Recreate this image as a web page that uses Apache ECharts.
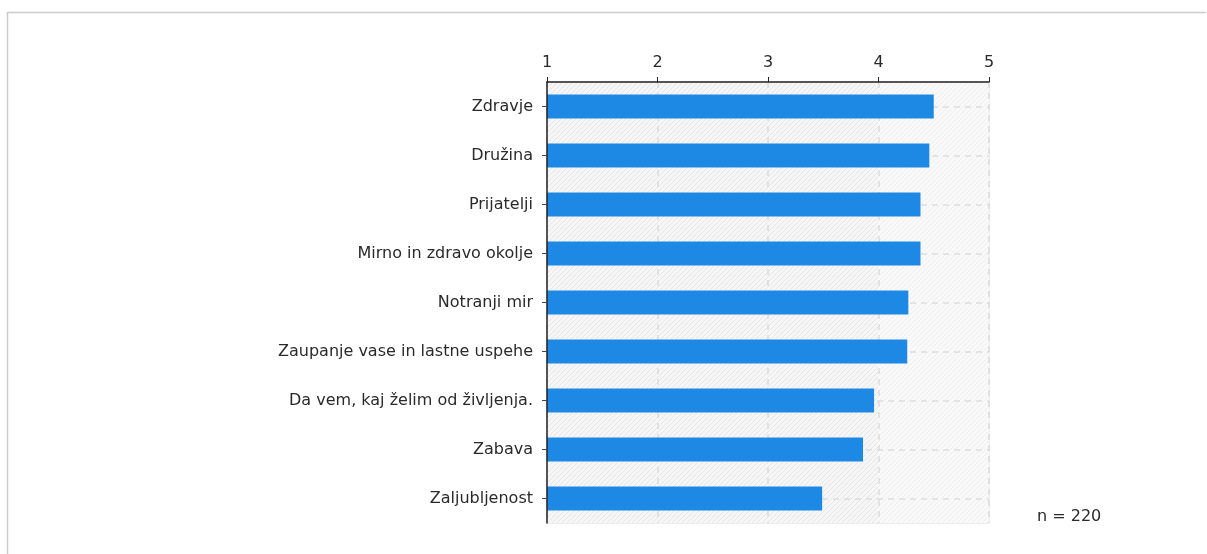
<!DOCTYPE html>
<html>
<head>
<meta charset="utf-8">
<script src="https://cdn.jsdelivr.net/npm/echarts@6/dist/echarts.min.js"></script>
<style>
html, body {margin: 0; padding: 0; background: #fff;}
#chart {width: 1207px; height: 554px;}
</style>
</head>
<body>
<div id="chart"></div>
<script>
var categories = ['Zdravje', 'Družina', 'Prijatelji', 'Mirno in zdravo okolje', 'Notranji mir',
    'Zaupanje vase in lastne uspehe', 'Da vem, kaj želim od življenja.', 'Zabava', 'Zaljubljenost'];
var values = [4.50, 4.46, 4.38, 4.38, 4.27, 4.26, 3.96, 3.86, 3.49];
var scaleTicks = [1, 2, 3, 4, 5];
var sampleSize = 220;

// diagonal hatch for the plot background
function hatch(bg, line){
    var c = document.createElement('canvas');
    c.width = 5; c.height = 5;
    var ctx = c.getContext('2d');
    ctx.fillStyle = bg;
    ctx.fillRect(0, 0, 5, 5);
    ctx.strokeStyle = line;
    ctx.lineWidth = 1;
    ctx.beginPath();
    ctx.moveTo(-1, 6); ctx.lineTo(6, -1);
    ctx.moveTo(-1, 1); ctx.lineTo(1, -1);
    ctx.moveTo(4, 6); ctx.lineTo(6, 4);
    ctx.stroke();
    return {image: c, repeat: 'repeat'};
}

var font = 'DejaVu Sans';
var fs = 16;
var txt = '#2a2a2a';
var chart = echarts.init(document.getElementById('chart'));
chart.setOption({
    animation: false,
    textStyle: {fontFamily: font},
    grid: {left: 547, right: 218, top: 82, bottom: 31, show: true,
        borderColor: '#dddddd', borderWidth: 1, backgroundColor: 'transparent'},
    graphic: [
        {type: 'line', shape: {x1: 7, y1: 12.5, x2: 1206, y2: 12.5}, style: {stroke: '#cccccc', lineWidth: 1.5}},
        {type: 'line', shape: {x1: 7.5, y1: 12, x2: 7.5, y2: 554}, style: {stroke: '#cccccc', lineWidth: 1.5}},
        {type: 'text', left: 1037, top: 509, style: {text: 'n = ' + sampleSize, font: fs + 'px "' + font + '"', fill: txt}}
    ],
    xAxis: {
        type: 'value', position: 'top', z: 2, min: scaleTicks[0], max: scaleTicks[scaleTicks.length - 1], interval: 1,
        axisLine: {show: true, lineStyle: {color: '#222', width: 1.5}},
        axisTick: {show: true, length: 5, lineStyle: {color: '#222'}},
        axisLabel: {color: txt, fontSize: fs, margin: 11},
        splitLine: {show: true, lineStyle: {color: '#dcdcdc', type: [6, 5], width: 1.5}}
    },
    yAxis: {
        type: 'category', inverse: true, z: 4, data: categories,
        axisLine: {show: true, lineStyle: {color: '#222', width: 1.5}},
        axisTick: {show: true, alignWithLabel: true, length: 5, lineStyle: {color: '#444'}},
        axisLabel: {color: txt, fontSize: fs, margin: 14},
        splitLine: {show: false}
    },
    series: [
        {
            type: 'line', z: 1, silent: true, data: [], symbol: 'none',
            markArea: {silent: true, z: 0, data: [
                [{xAxis: 1, itemStyle: {color: hatch('#f6f6f6', '#e6e6e6')}}, {xAxis: 4}],
                [{xAxis: 4, itemStyle: {color: hatch('#f9f9f9', '#eeeeee')}}, {xAxis: 5}]
            ]},
            markLine: {silent: true, z: 1, symbol: 'none', label: {show: false},
                lineStyle: {color: '#dddddd', type: [6, 5], width: 1.5},
                data: categories.map(function(c){ return {yAxis: c}; })}
        },
        {
            type: 'bar', z: 3, data: values, barWidth: 24,
            itemStyle: {color: '#1e88e5'}
        }
    ]
});
</script>
</body>
</html>
